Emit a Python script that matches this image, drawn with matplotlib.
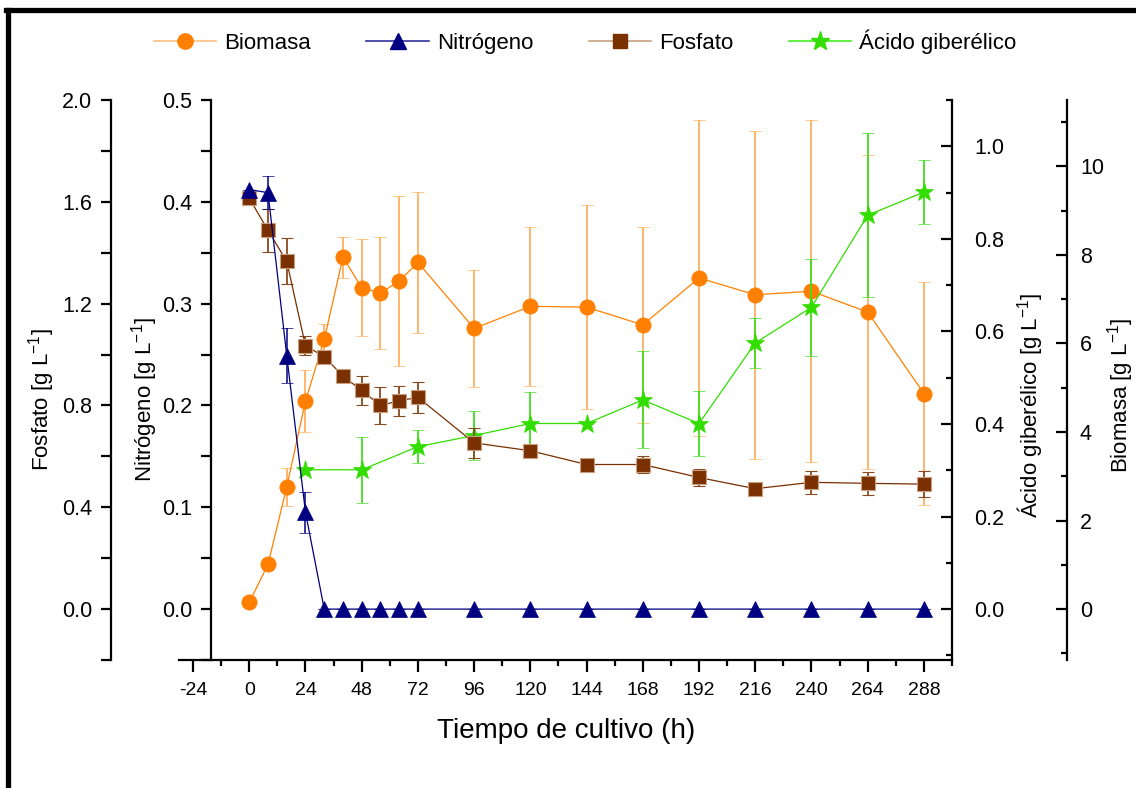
import matplotlib
matplotlib.use('Agg')
import matplotlib.pyplot as plt
from matplotlib.lines import Line2D
from matplotlib.ticker import MultipleLocator, FormatStrFormatter

# Datos
tiempo = [0, 8, 16, 24, 32, 40, 48, 56, 64, 72, 96, 120, 144, 168, 192, 216, 240, 264, 288]
biomasa = [0.15, 1.01, 2.76, 4.70, 6.09, 7.95, 7.26, 7.14, 7.41, 7.83, 6.34, 6.84, 6.82,
           6.42, 7.48, 7.10, 7.18, 6.71, 4.87]
biomasa_err = [0, 0, 0.43, 0.70, 0.35, 0.46, 1.09, 1.26, 1.93, 1.60, 1.32, 1.80, 2.31,
               2.21, 3.56, 3.71, 3.86, 3.55, 2.52]
nitrogeno = [0.412, 0.409, 0.249, 0.095, 0, 0, 0, 0, 0, 0, 0, 0, 0, 0, 0, 0, 0, 0, 0]
nitrogeno_err = [0, 0.016, 0.027, 0.020, 0, 0, 0, 0, 0, 0, 0, 0, 0, 0, 0, 0, 0, 0, 0]
fosfato = [1.614, 1.488, 1.366, 1.034, 0.992, 0.915, 0.859, 0.800, 0.818, 0.832, 0.653,
           0.622, 0.568, 0.568, 0.517, 0.473, 0.498, 0.494, 0.491]
fosfato_err = [0, 0.084, 0.090, 0.037, 0.02, 0.02, 0.056, 0.073, 0.058, 0.061, 0.060,
               0.02, 0.02, 0.035, 0.034, 0, 0.044, 0.046, 0.050]
tiempo_ag = [24, 48, 72, 96, 120, 144, 168, 192, 216, 240, 264, 288]
acido = [0.301, 0.301, 0.351, 0.375, 0.401, 0.401, 0.452, 0.401, 0.575, 0.652, 0.851, 0.901]
acido_err = [0, 0.071, 0.035, 0.052, 0.069, 0, 0.105, 0.070, 0.053, 0.105, 0.177, 0.070]

x_ticks = list(range(-24, 289, 24))

fuente = 'Liberation Sans'
plt.rcParams['font.family'] = fuente
plt.rcParams['axes.unicode_minus'] = False

W, H = 1136, 788
fig = plt.figure(figsize=(W / 100, H / 100), dpi=100)

def px(x, y):
    return x / W, 1 - y / H

# marco
fig.add_artist(Line2D([7.5 / W, 7.5 / W], [0, 1 - 9.5 / H], transform=fig.transFigure,
                      color='black', lw=3.8))
fig.add_artist(Line2D([5.6 / W, 1], [1 - 9.5 / H, 1 - 9.5 / H], transform=fig.transFigure,
                      color='black', lw=3.8))

x0, x1, ytop, ybot = 179, 952, 100, 660
ax = fig.add_axes([x0 / W, 1 - ybot / H, (x1 - x0) / W, (ybot - ytop) / H])
ax_ag = ax.twinx()
ax_f = ax.twinx()
ax_n = ax.twinx()

for a in (ax, ax_ag, ax_f, ax_n):
    for s in a.spines.values():
        s.set_visible(False)
        s.set_linewidth(1.6)

# eje x
ax.spines['bottom'].set_visible(True)
ax.set_xlim(-30, 300)
ax.set_xticks(x_ticks)
ax.xaxis.set_minor_locator(MultipleLocator(12))
ax.tick_params(axis='x', which='major', direction='out', length=8.5, width=1.6, pad=7,
               labelsize=14)
ax.tick_params(axis='x', which='minor', direction='out', length=4.5, width=1.6)

# Biomasa (derecha exterior)
ax.set_ylim(-1.15, 11.5)
ax.yaxis.tick_right()
ax.spines['right'].set_visible(True)
ax.spines['right'].set_position(('axes', (1066.7 - x0) / (x1 - x0)))
ax.set_yticks([0, 2, 4, 6, 8, 10])
ax.yaxis.set_minor_locator(MultipleLocator(1))
ax.tick_params(axis='y', which='major', direction='in', length=8, width=1.6, pad=9.5,
               labelsize=15.5)
ax.tick_params(axis='y', which='minor', direction='in', length=4, width=1.6)

# Ácido giberélico (derecha)
ax_ag.set_ylim(-0.11, 1.1)
ax_ag.spines['right'].set_visible(True)
ax_ag.spines['right'].set_position(('axes', 1.0))
ax_ag.set_yticks([0, 0.2, 0.4, 0.6, 0.8, 1.0])
ax_ag.yaxis.set_minor_locator(MultipleLocator(0.1))
ax_ag.yaxis.set_major_formatter(FormatStrFormatter('%.1f'))
ax_ag.tick_params(axis='y', which='major', direction='in', length=8, width=1.6, pad=16,
                  labelsize=15.5)
ax_ag.tick_params(axis='y', which='minor', direction='in', length=4, width=1.6)

# Fosfato (izquierda exterior)
ax_f.set_ylim(-0.2, 2.0)
ax_f.yaxis.tick_left()
ax_f.spines['left'].set_visible(True)
ax_f.spines['left'].set_position(('axes', (110.7 - x0) / (x1 - x0)))
ax_f.set_yticks([0, 0.4, 0.8, 1.2, 1.6, 2.0])
ax_f.yaxis.set_minor_locator(MultipleLocator(0.2))
ax_f.yaxis.set_major_formatter(FormatStrFormatter('%.1f'))
ax_f.tick_params(axis='y', which='major', direction='out', length=7.5, width=1.6, pad=6,
                 labelsize=15.5)
ax_f.tick_params(axis='y', which='minor', direction='out', length=7.5, width=1.6)

# Nitrógeno (izquierda)
ax_n.set_ylim(-0.05, 0.5)
ax_n.yaxis.tick_left()
ax_n.spines['left'].set_visible(True)
ax_n.spines['left'].set_position(('axes', (211 - x0) / (x1 - x0)))
ax_n.set_yticks([0, 0.1, 0.2, 0.3, 0.4, 0.5])
ax_n.yaxis.set_minor_locator(MultipleLocator(0.05))
ax_n.yaxis.set_major_formatter(FormatStrFormatter('%.1f'))
ax_n.tick_params(axis='y', which='major', direction='out', length=7.5, width=1.6, pad=6,
                 labelsize=15.5)
ax_n.tick_params(axis='y', which='minor', direction='out', length=7.5, width=1.6)

# series
ax.errorbar(tiempo, biomasa, yerr=biomasa_err, fmt='-o', color='#FF8000', lw=0.9,
            ms=11, mec='#FF8000', mew=0.5, ecolor='#FFB060', elinewidth=1.3,
            capsize=4, capthick=1.3, zorder=3)
ax_ag.errorbar(tiempo_ag, acido, yerr=acido_err, fmt='-*', color='#33DD00', lw=0.9,
               ms=14, mec='#33DD00', mew=0.5, ecolor='#44DD22', elinewidth=1.3,
               capsize=4, capthick=1.3, zorder=3)
ax_f.errorbar(tiempo, fosfato, yerr=fosfato_err, fmt='-s', color='#7A3000', lw=0.9,
              ms=9.5, mec='#C8A080', mew=0.8, ecolor='#8A4A20', elinewidth=1.3,
              capsize=4, capthick=1.3, zorder=3)
ax_n.errorbar(tiempo, nitrogeno, yerr=nitrogeno_err, fmt='-^', color='#000080', lw=0.9,
              ms=11, mec='#000080', mew=0.5, ecolor='#000080', elinewidth=1.1,
              capsize=4, capthick=1.1, zorder=3)

# etiquetas
sup = r'$^{\mathregular{-1}}$'
fig.text(*px(42, 400), 'Fosfato [g L' + sup + ']', rotation=90, ha='center', va='center',
         fontsize=16)
fig.text(*px(145, 400), 'Nitrógeno [g L' + sup + ']', rotation=90, ha='center', va='center',
         fontsize=16)
fig.text(*px(1030, 405), 'Ácido giberélico [g L' + sup + ']', rotation=90, ha='center',
         va='center', fontsize=16)
fig.text(*px(1121, 395), 'Biomasa [g L' + sup + ']', rotation=90, ha='center', va='center',
         fontsize=16)
fig.text(*px(566, 731), 'Tiempo de cultivo (h)', ha='center', va='center', fontsize=20)

# leyenda
handles = [
    Line2D([], [], color='#FFC080', lw=1.2, marker='o', ms=11, mfc='#FF8000', mec='#FF8000'),
    Line2D([], [], color='#3030A0', lw=1.2, marker='^', ms=11, mfc='#000080', mec='#000080'),
    Line2D([], [], color='#C8A080', lw=1.2, marker='s', ms=9.5, mfc='#7A3000', mec='#7A3000'),
    Line2D([], [], color='#44EE22', lw=1.2, marker='*', ms=14, mfc='#33DD00', mec='#33DD00'),
]
etiquetas = ['Biomasa', 'Nitrógeno', 'Fosfato', 'Ácido giberélico']
fig.legend(handles, etiquetas, loc='center', bbox_to_anchor=px(585, 42), ncol=4,
           frameon=False, handlelength=2.8, handletextpad=0.36, columnspacing=2.5,
           prop={'size': 16})

fig.savefig('out.png', dpi=100)
